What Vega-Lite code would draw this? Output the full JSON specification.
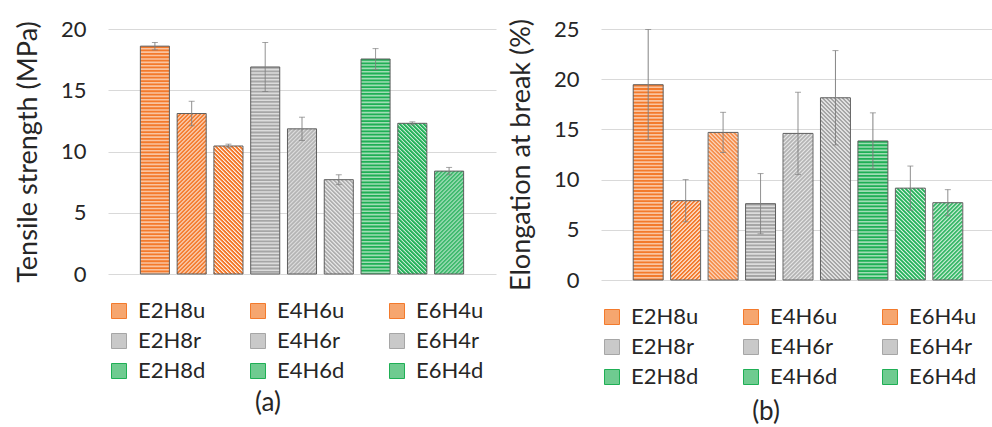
{
"$schema":"https://vega.github.io/schema/vega-lite/v6.json",
"padding":{"left":14,"top":18,"right":0,"bottom":0},
"background":"white",
"datasets":{
"ts":[{"s":"E2H8u","v":18.6,"e":0.3},{"s":"E4H6u","v":13.1,"e":1.0},{"s":"E6H4u","v":10.45,"e":0.15},{"s":"E2H8r","v":16.9,"e":2.0},{"s":"E4H6r","v":11.85,"e":0.95},{"s":"E6H4r","v":7.7,"e":0.4},{"s":"E2H8d","v":17.55,"e":0.85},{"s":"E4H6d","v":12.3,"e":0.12},{"s":"E6H4d","v":8.4,"e":0.3}],
"eb":[{"s":"E2H8u","v":19.45,"e":5.5},{"s":"E4H6u","v":7.9,"e":2.1},{"s":"E6H4u","v":14.7,"e":2.0},{"s":"E2H8r","v":7.6,"e":3.0},{"s":"E4H6r","v":14.6,"e":4.1},{"s":"E6H4r","v":18.15,"e":4.7},{"s":"E2H8d","v":13.85,"e":2.8},{"s":"E4H6d","v":9.15,"e":2.2},{"s":"E6H4d","v":7.7,"e":1.3}]
},
"spacing":11,
"resolve":{"scale":{"color":"independent","fill":"independent","stroke":"independent"},"legend":{"color":"independent"}},
"hconcat":[
{
"width":388,"height":245,
"data":{"name":"ts"},
"title":{"text":"(a)","orient":"bottom","dx":-34},
"encoding":{
"x":{"field":"s","type":"nominal","axis":null,"scale":{"domain":["E2H8u","E4H6u","E6H4u","E2H8r","E4H6r","E6H4r","E2H8d","E4H6d","E6H4d"],"paddingInner":0.21,"paddingOuter":0.88}},
"y":{"field":"v","type":"quantitative","scale":{"domain":[0,20]},"axis":{"values":[0,5,10,15,20],"title":"Tensile strength (MPa)"}}
},
"layer":[
{"mark":{"type":"square","opacity":0},"encoding":{"color":{"field":"s","type":"nominal","scale":{"domain":["E2H8u","E4H6u","E6H4u","E2H8r","E4H6r","E6H4r","E2H8d","E4H6d","E6H4d"],"range":["#F6A66F","#F6A66F","#F6A66F","#C9C9C9","#C9C9C9","#C9C9C9","#6FCB90","#6FCB90","#6FCB90"]},"legend":{"symbolOpacity":1}}}},
{"mark":{"type":"bar"},"encoding":{"fill":{"field":"s","type":"nominal","scale":{"domain":["E2H8u","E4H6u","E6H4u","E2H8r","E4H6r","E6H4r","E2H8d","E4H6d","E6H4d"],"range":["#FAC4A0","#ffffff","#ffffff","#DCDCDC","#ffffff","#ffffff","#A0DDB5","#ffffff","#ffffff"]},"legend":null}}},
{"transform":[{"filter":{"field":"s","oneOf":["E2H8u","E2H8r","E2H8d"]}}],"mark":{"type":"rule","strokeWidth":29,"strokeDash":[1.8,1.6]},"encoding":{"y2":{"datum":0},"stroke":{"field":"s","type":"nominal","scale":{"domain":["E2H8u","E4H6u","E6H4u","E2H8r","E4H6r","E6H4r","E2H8d","E4H6d","E6H4d"],"range":["#F37A2C","#F37A2C","#F37A2C","#A6A6A6","#A6A6A6","#A6A6A6","#1FAF55","#1FAF55","#1FAF55"]},"legend":null}}},
{"transform":[{"filter":{"field":"s","oneOf":["E4H6u","E4H6r","E6H4d"]}}],"encoding":{"y2":{"datum":0},"stroke":{"field":"s","type":"nominal","scale":{"domain":["E2H8u","E4H6u","E6H4u","E2H8r","E4H6r","E6H4r","E2H8d","E4H6d","E6H4d"],"range":["#F37A2C","#F37A2C","#F37A2C","#A6A6A6","#A6A6A6","#A6A6A6","#1FAF55","#1FAF55","#1FAF55"]},"legend":null}},
"layer":[
{"mark":{"type":"rule","xOffset":-14,"strokeDashOffset":2}},{"mark":{"type":"rule","xOffset":-13,"strokeDashOffset":3}},{"mark":{"type":"rule","xOffset":-12,"strokeDashOffset":0}},{"mark":{"type":"rule","xOffset":-11,"strokeDashOffset":1}},{"mark":{"type":"rule","xOffset":-10,"strokeDashOffset":2}},{"mark":{"type":"rule","xOffset":-9,"strokeDashOffset":3}},{"mark":{"type":"rule","xOffset":-8,"strokeDashOffset":0}},{"mark":{"type":"rule","xOffset":-7,"strokeDashOffset":1}},{"mark":{"type":"rule","xOffset":-6,"strokeDashOffset":2}},{"mark":{"type":"rule","xOffset":-5,"strokeDashOffset":3}},{"mark":{"type":"rule","xOffset":-4,"strokeDashOffset":0}},{"mark":{"type":"rule","xOffset":-3,"strokeDashOffset":1}},{"mark":{"type":"rule","xOffset":-2,"strokeDashOffset":2}},{"mark":{"type":"rule","xOffset":-1,"strokeDashOffset":3}},{"mark":{"type":"rule","xOffset":0,"strokeDashOffset":0}},{"mark":{"type":"rule","xOffset":1,"strokeDashOffset":1}},{"mark":{"type":"rule","xOffset":2,"strokeDashOffset":2}},{"mark":{"type":"rule","xOffset":3,"strokeDashOffset":3}},{"mark":{"type":"rule","xOffset":4,"strokeDashOffset":0}},{"mark":{"type":"rule","xOffset":5,"strokeDashOffset":1}},{"mark":{"type":"rule","xOffset":6,"strokeDashOffset":2}},{"mark":{"type":"rule","xOffset":7,"strokeDashOffset":3}},{"mark":{"type":"rule","xOffset":8,"strokeDashOffset":0}},{"mark":{"type":"rule","xOffset":9,"strokeDashOffset":1}},{"mark":{"type":"rule","xOffset":10,"strokeDashOffset":2}},{"mark":{"type":"rule","xOffset":11,"strokeDashOffset":3}},{"mark":{"type":"rule","xOffset":12,"strokeDashOffset":0}},{"mark":{"type":"rule","xOffset":13,"strokeDashOffset":1}},{"mark":{"type":"rule","xOffset":14,"strokeDashOffset":2}}
]},
{"transform":[{"filter":{"field":"s","oneOf":["E6H4u","E6H4r","E4H6d"]}}],"encoding":{"y2":{"datum":0},"stroke":{"field":"s","type":"nominal","scale":{"domain":["E2H8u","E4H6u","E6H4u","E2H8r","E4H6r","E6H4r","E2H8d","E4H6d","E6H4d"],"range":["#F37A2C","#F37A2C","#F37A2C","#A6A6A6","#A6A6A6","#A6A6A6","#1FAF55","#1FAF55","#1FAF55"]},"legend":null}},
"layer":[
{"mark":{"type":"rule","xOffset":-14,"strokeDashOffset":2}},{"mark":{"type":"rule","xOffset":-13,"strokeDashOffset":1}},{"mark":{"type":"rule","xOffset":-12,"strokeDashOffset":0}},{"mark":{"type":"rule","xOffset":-11,"strokeDashOffset":3}},{"mark":{"type":"rule","xOffset":-10,"strokeDashOffset":2}},{"mark":{"type":"rule","xOffset":-9,"strokeDashOffset":1}},{"mark":{"type":"rule","xOffset":-8,"strokeDashOffset":0}},{"mark":{"type":"rule","xOffset":-7,"strokeDashOffset":3}},{"mark":{"type":"rule","xOffset":-6,"strokeDashOffset":2}},{"mark":{"type":"rule","xOffset":-5,"strokeDashOffset":1}},{"mark":{"type":"rule","xOffset":-4,"strokeDashOffset":0}},{"mark":{"type":"rule","xOffset":-3,"strokeDashOffset":3}},{"mark":{"type":"rule","xOffset":-2,"strokeDashOffset":2}},{"mark":{"type":"rule","xOffset":-1,"strokeDashOffset":1}},{"mark":{"type":"rule","xOffset":0,"strokeDashOffset":0}},{"mark":{"type":"rule","xOffset":1,"strokeDashOffset":3}},{"mark":{"type":"rule","xOffset":2,"strokeDashOffset":2}},{"mark":{"type":"rule","xOffset":3,"strokeDashOffset":1}},{"mark":{"type":"rule","xOffset":4,"strokeDashOffset":0}},{"mark":{"type":"rule","xOffset":5,"strokeDashOffset":3}},{"mark":{"type":"rule","xOffset":6,"strokeDashOffset":2}},{"mark":{"type":"rule","xOffset":7,"strokeDashOffset":1}},{"mark":{"type":"rule","xOffset":8,"strokeDashOffset":0}},{"mark":{"type":"rule","xOffset":9,"strokeDashOffset":3}},{"mark":{"type":"rule","xOffset":10,"strokeDashOffset":2}},{"mark":{"type":"rule","xOffset":11,"strokeDashOffset":1}},{"mark":{"type":"rule","xOffset":12,"strokeDashOffset":0}},{"mark":{"type":"rule","xOffset":13,"strokeDashOffset":3}},{"mark":{"type":"rule","xOffset":14,"strokeDashOffset":2}}
]},
{"mark":{"type":"bar","fillOpacity":0,"stroke":"#5f5f5f","strokeWidth":1}},
{"mark":{"type":"errorbar","color":"#7f7f7f","ticks":{"size":6},"rule":{"strokeDash":[1,0],"strokeWidth":1}},"encoding":{"yError":{"field":"e"}}}
]
},
{
"width":394,"height":251,
"data":{"name":"eb"},
"title":{"text":"(b)","orient":"bottom","dx":-32,"offset":11},
"encoding":{
"x":{"field":"s","type":"nominal","axis":null,"scale":{"domain":["E2H8u","E4H6u","E6H4u","E2H8r","E4H6r","E6H4r","E2H8d","E4H6d","E6H4d"],"paddingInner":0.2,"paddingOuter":0.86}},
"y":{"field":"v","type":"quantitative","scale":{"domain":[0,25]},"axis":{"values":[0,5,10,15,20,25],"title":"Elongation at break (%)"}}
},
"layer":[
{"mark":{"type":"square","opacity":0},"encoding":{"color":{"field":"s","type":"nominal","scale":{"domain":["E2H8u","E4H6u","E6H4u","E2H8r","E4H6r","E6H4r","E2H8d","E4H6d","E6H4d"],"range":["#F6A66F","#F6A66F","#F6A66F","#C9C9C9","#C9C9C9","#C9C9C9","#6FCB90","#6FCB90","#6FCB90"]},"legend":{"symbolOpacity":1}}}},
{"mark":{"type":"bar"},"encoding":{"fill":{"field":"s","type":"nominal","scale":{"domain":["E2H8u","E4H6u","E6H4u","E2H8r","E4H6r","E6H4r","E2H8d","E4H6d","E6H4d"],"range":["#FAC4A0","#ffffff","#ffffff","#DCDCDC","#ffffff","#ffffff","#A0DDB5","#ffffff","#ffffff"]},"legend":null}}},
{"transform":[{"filter":{"field":"s","oneOf":["E2H8u","E2H8r","E2H8d"]}}],"mark":{"type":"rule","strokeWidth":30,"strokeDash":[1.8,1.6]},"encoding":{"y2":{"datum":0},"stroke":{"field":"s","type":"nominal","scale":{"domain":["E2H8u","E4H6u","E6H4u","E2H8r","E4H6r","E6H4r","E2H8d","E4H6d","E6H4d"],"range":["#F37A2C","#F37A2C","#F37A2C","#A6A6A6","#A6A6A6","#A6A6A6","#1FAF55","#1FAF55","#1FAF55"]},"legend":null}}},
{"transform":[{"filter":{"field":"s","oneOf":["E4H6u","E4H6r","E6H4d"]}}],"encoding":{"y2":{"datum":0},"stroke":{"field":"s","type":"nominal","scale":{"domain":["E2H8u","E4H6u","E6H4u","E2H8r","E4H6r","E6H4r","E2H8d","E4H6d","E6H4d"],"range":["#F37A2C","#F37A2C","#F37A2C","#A6A6A6","#A6A6A6","#A6A6A6","#1FAF55","#1FAF55","#1FAF55"]},"legend":null}},
"layer":[
{"mark":{"type":"rule","xOffset":-14,"strokeDashOffset":2}},{"mark":{"type":"rule","xOffset":-13,"strokeDashOffset":3}},{"mark":{"type":"rule","xOffset":-12,"strokeDashOffset":0}},{"mark":{"type":"rule","xOffset":-11,"strokeDashOffset":1}},{"mark":{"type":"rule","xOffset":-10,"strokeDashOffset":2}},{"mark":{"type":"rule","xOffset":-9,"strokeDashOffset":3}},{"mark":{"type":"rule","xOffset":-8,"strokeDashOffset":0}},{"mark":{"type":"rule","xOffset":-7,"strokeDashOffset":1}},{"mark":{"type":"rule","xOffset":-6,"strokeDashOffset":2}},{"mark":{"type":"rule","xOffset":-5,"strokeDashOffset":3}},{"mark":{"type":"rule","xOffset":-4,"strokeDashOffset":0}},{"mark":{"type":"rule","xOffset":-3,"strokeDashOffset":1}},{"mark":{"type":"rule","xOffset":-2,"strokeDashOffset":2}},{"mark":{"type":"rule","xOffset":-1,"strokeDashOffset":3}},{"mark":{"type":"rule","xOffset":0,"strokeDashOffset":0}},{"mark":{"type":"rule","xOffset":1,"strokeDashOffset":1}},{"mark":{"type":"rule","xOffset":2,"strokeDashOffset":2}},{"mark":{"type":"rule","xOffset":3,"strokeDashOffset":3}},{"mark":{"type":"rule","xOffset":4,"strokeDashOffset":0}},{"mark":{"type":"rule","xOffset":5,"strokeDashOffset":1}},{"mark":{"type":"rule","xOffset":6,"strokeDashOffset":2}},{"mark":{"type":"rule","xOffset":7,"strokeDashOffset":3}},{"mark":{"type":"rule","xOffset":8,"strokeDashOffset":0}},{"mark":{"type":"rule","xOffset":9,"strokeDashOffset":1}},{"mark":{"type":"rule","xOffset":10,"strokeDashOffset":2}},{"mark":{"type":"rule","xOffset":11,"strokeDashOffset":3}},{"mark":{"type":"rule","xOffset":12,"strokeDashOffset":0}},{"mark":{"type":"rule","xOffset":13,"strokeDashOffset":1}},{"mark":{"type":"rule","xOffset":14,"strokeDashOffset":2}}
]},
{"transform":[{"filter":{"field":"s","oneOf":["E6H4u","E6H4r","E4H6d"]}}],"encoding":{"y2":{"datum":0},"stroke":{"field":"s","type":"nominal","scale":{"domain":["E2H8u","E4H6u","E6H4u","E2H8r","E4H6r","E6H4r","E2H8d","E4H6d","E6H4d"],"range":["#F37A2C","#F37A2C","#F37A2C","#A6A6A6","#A6A6A6","#A6A6A6","#1FAF55","#1FAF55","#1FAF55"]},"legend":null}},
"layer":[
{"mark":{"type":"rule","xOffset":-14,"strokeDashOffset":2}},{"mark":{"type":"rule","xOffset":-13,"strokeDashOffset":1}},{"mark":{"type":"rule","xOffset":-12,"strokeDashOffset":0}},{"mark":{"type":"rule","xOffset":-11,"strokeDashOffset":3}},{"mark":{"type":"rule","xOffset":-10,"strokeDashOffset":2}},{"mark":{"type":"rule","xOffset":-9,"strokeDashOffset":1}},{"mark":{"type":"rule","xOffset":-8,"strokeDashOffset":0}},{"mark":{"type":"rule","xOffset":-7,"strokeDashOffset":3}},{"mark":{"type":"rule","xOffset":-6,"strokeDashOffset":2}},{"mark":{"type":"rule","xOffset":-5,"strokeDashOffset":1}},{"mark":{"type":"rule","xOffset":-4,"strokeDashOffset":0}},{"mark":{"type":"rule","xOffset":-3,"strokeDashOffset":3}},{"mark":{"type":"rule","xOffset":-2,"strokeDashOffset":2}},{"mark":{"type":"rule","xOffset":-1,"strokeDashOffset":1}},{"mark":{"type":"rule","xOffset":0,"strokeDashOffset":0}},{"mark":{"type":"rule","xOffset":1,"strokeDashOffset":3}},{"mark":{"type":"rule","xOffset":2,"strokeDashOffset":2}},{"mark":{"type":"rule","xOffset":3,"strokeDashOffset":1}},{"mark":{"type":"rule","xOffset":4,"strokeDashOffset":0}},{"mark":{"type":"rule","xOffset":5,"strokeDashOffset":3}},{"mark":{"type":"rule","xOffset":6,"strokeDashOffset":2}},{"mark":{"type":"rule","xOffset":7,"strokeDashOffset":1}},{"mark":{"type":"rule","xOffset":8,"strokeDashOffset":0}},{"mark":{"type":"rule","xOffset":9,"strokeDashOffset":3}},{"mark":{"type":"rule","xOffset":10,"strokeDashOffset":2}},{"mark":{"type":"rule","xOffset":11,"strokeDashOffset":1}},{"mark":{"type":"rule","xOffset":12,"strokeDashOffset":0}},{"mark":{"type":"rule","xOffset":13,"strokeDashOffset":3}},{"mark":{"type":"rule","xOffset":14,"strokeDashOffset":2}}
]},
{"mark":{"type":"bar","fillOpacity":0,"stroke":"#5f5f5f","strokeWidth":1}},
{"mark":{"type":"errorbar","color":"#7f7f7f","ticks":{"size":6},"rule":{"strokeDash":[1,0],"strokeWidth":1}},"encoding":{"yError":{"field":"e"}}}
]
}
],
"config":{
"font":"Lato",
"view":{"stroke":null},
"rule":{"strokeWidth":1.2,"strokeDash":[2.6,1.4]},
"axisY":{"domain":false,"ticks":false,"grid":true,"gridColor":"#d9d9d9","gridWidth":1,"labelFontSize":22,"labelColor":"#262626","labelPadding":22,"titleFontSize":27,"titleFontWeight":"normal","titleColor":"#262626","titlePadding":18},
"legend":{"orient":"bottom","direction":"horizontal","columns":3,"title":null,"offset":26,"symbolType":"square","symbolSize":225,"symbolStrokeColor":"#6a6a6a","symbolStrokeWidth":1,"labelFontSize":22,"labelColor":"#262626","labelOffset":8,"columnPadding":41,"rowPadding":8,"labelLimit":200},
"title":{"fontSize":26,"fontWeight":"normal","color":"#262626","offset":8,"anchor":"middle"}
}
}
